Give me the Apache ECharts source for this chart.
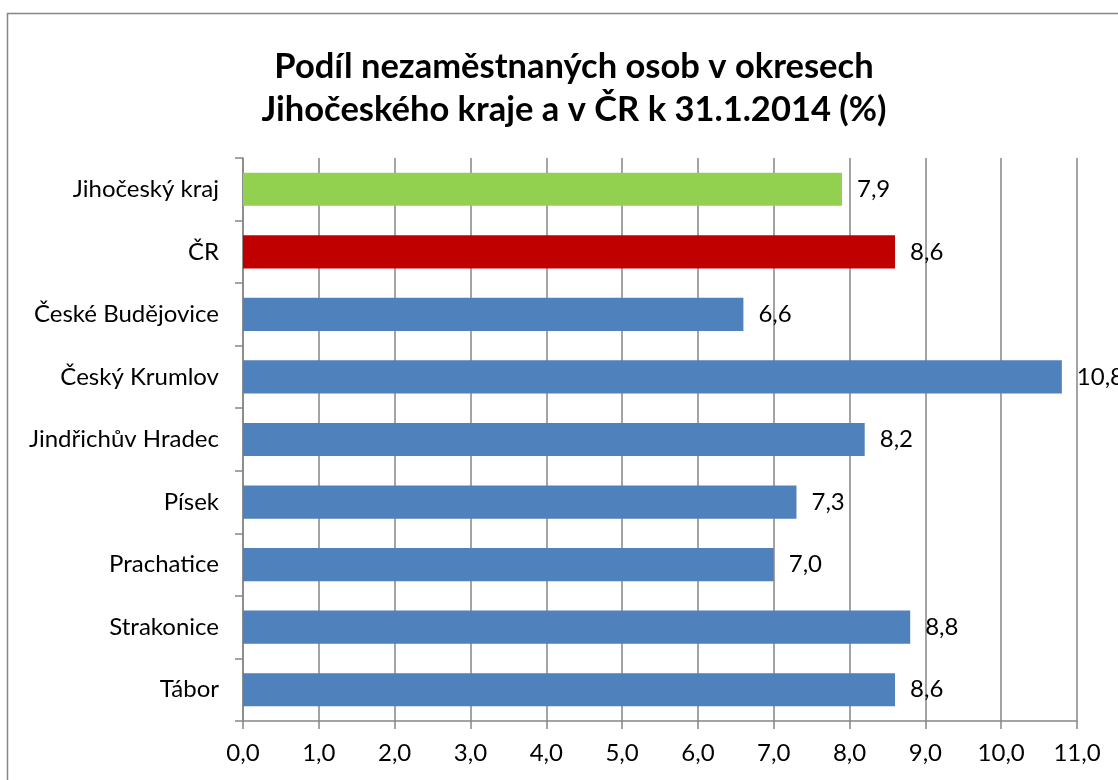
<!DOCTYPE html>
<html><head><meta charset="utf-8">
<script src="https://cdn.jsdelivr.net/npm/echarts@6/dist/echarts.min.js"></script>
<style>html,body{margin:0;padding:0;background:#fff}#c{width:1118px;height:780px}</style>
</head><body><div id="c"></div>
<script>
const categories = ['Jihočeský kraj','ČR','České Budějovice','Český Krumlov','Jindřichův Hradec','Písek','Prachatice','Strakonice','Tábor'];
const values = [7.9, 8.6, 6.6, 10.8, 8.2, 7.3, 7.0, 8.8, 8.6];
const barColors = ['#92D050','#C00000','#4F81BD','#4F81BD','#4F81BD','#4F81BD','#4F81BD','#4F81BD','#4F81BD'];
const titleText = 'Podíl nezaměstnaných osob v okresech\nJihočeského kraje a v ČR k 31.1.2014 (%)';
const fmt = v => v.toFixed(1).replace('.', ',');
const chart = echarts.init(document.getElementById('c'));
chart.setOption({
  animation:false,
  textStyle:{fontFamily:'Lato'},
  title:{text:titleText,top:40,textAlign:'center',left:569,
    textStyle:{fontFamily:'Lato',fontWeight:'bold',fontSize:34.5,lineHeight:43,color:'#000'}},
  graphic:[{type:'rect',shape:{x:7.5,y:13.5,width:1200,height:900},style:{fill:'none',stroke:'#868686',lineWidth:1.5},silent:true}],
  grid:{left:243,right:41,top:158,bottom:59,containLabel:false},
  xAxis:{type:'value',min:0,max:11,interval:1,
    axisLine:{show:true,lineStyle:{color:'#868686',width:1.5}},
    axisTick:{show:true,length:8,lineStyle:{color:'#868686',width:1.5}},
    splitLine:{show:true,lineStyle:{color:'#868686',width:1.5}},
    axisLabel:{formatter:v=>fmt(v),fontSize:24,color:'#000',margin:20,fontFamily:'Lato'}},
  yAxis:{type:'category',data:categories,inverse:true,
    axisLine:{show:true,lineStyle:{color:'#868686',width:1.5}},
    axisTick:{show:true,length:8,lineStyle:{color:'#868686',width:1.5}},
    axisLabel:{fontSize:24,color:'#000',margin:24,fontFamily:'Lato'}},
  series:[{type:'bar',barCategoryGap:'47%',
    data:values.map((v,i)=>({value:v,itemStyle:{color:barColors[i]}})),
    label:{show:true,position:'right',distance:15,fontSize:24,color:'#000',fontFamily:'Lato',formatter:p=>fmt(p.value)}}]
});
</script></body></html>
